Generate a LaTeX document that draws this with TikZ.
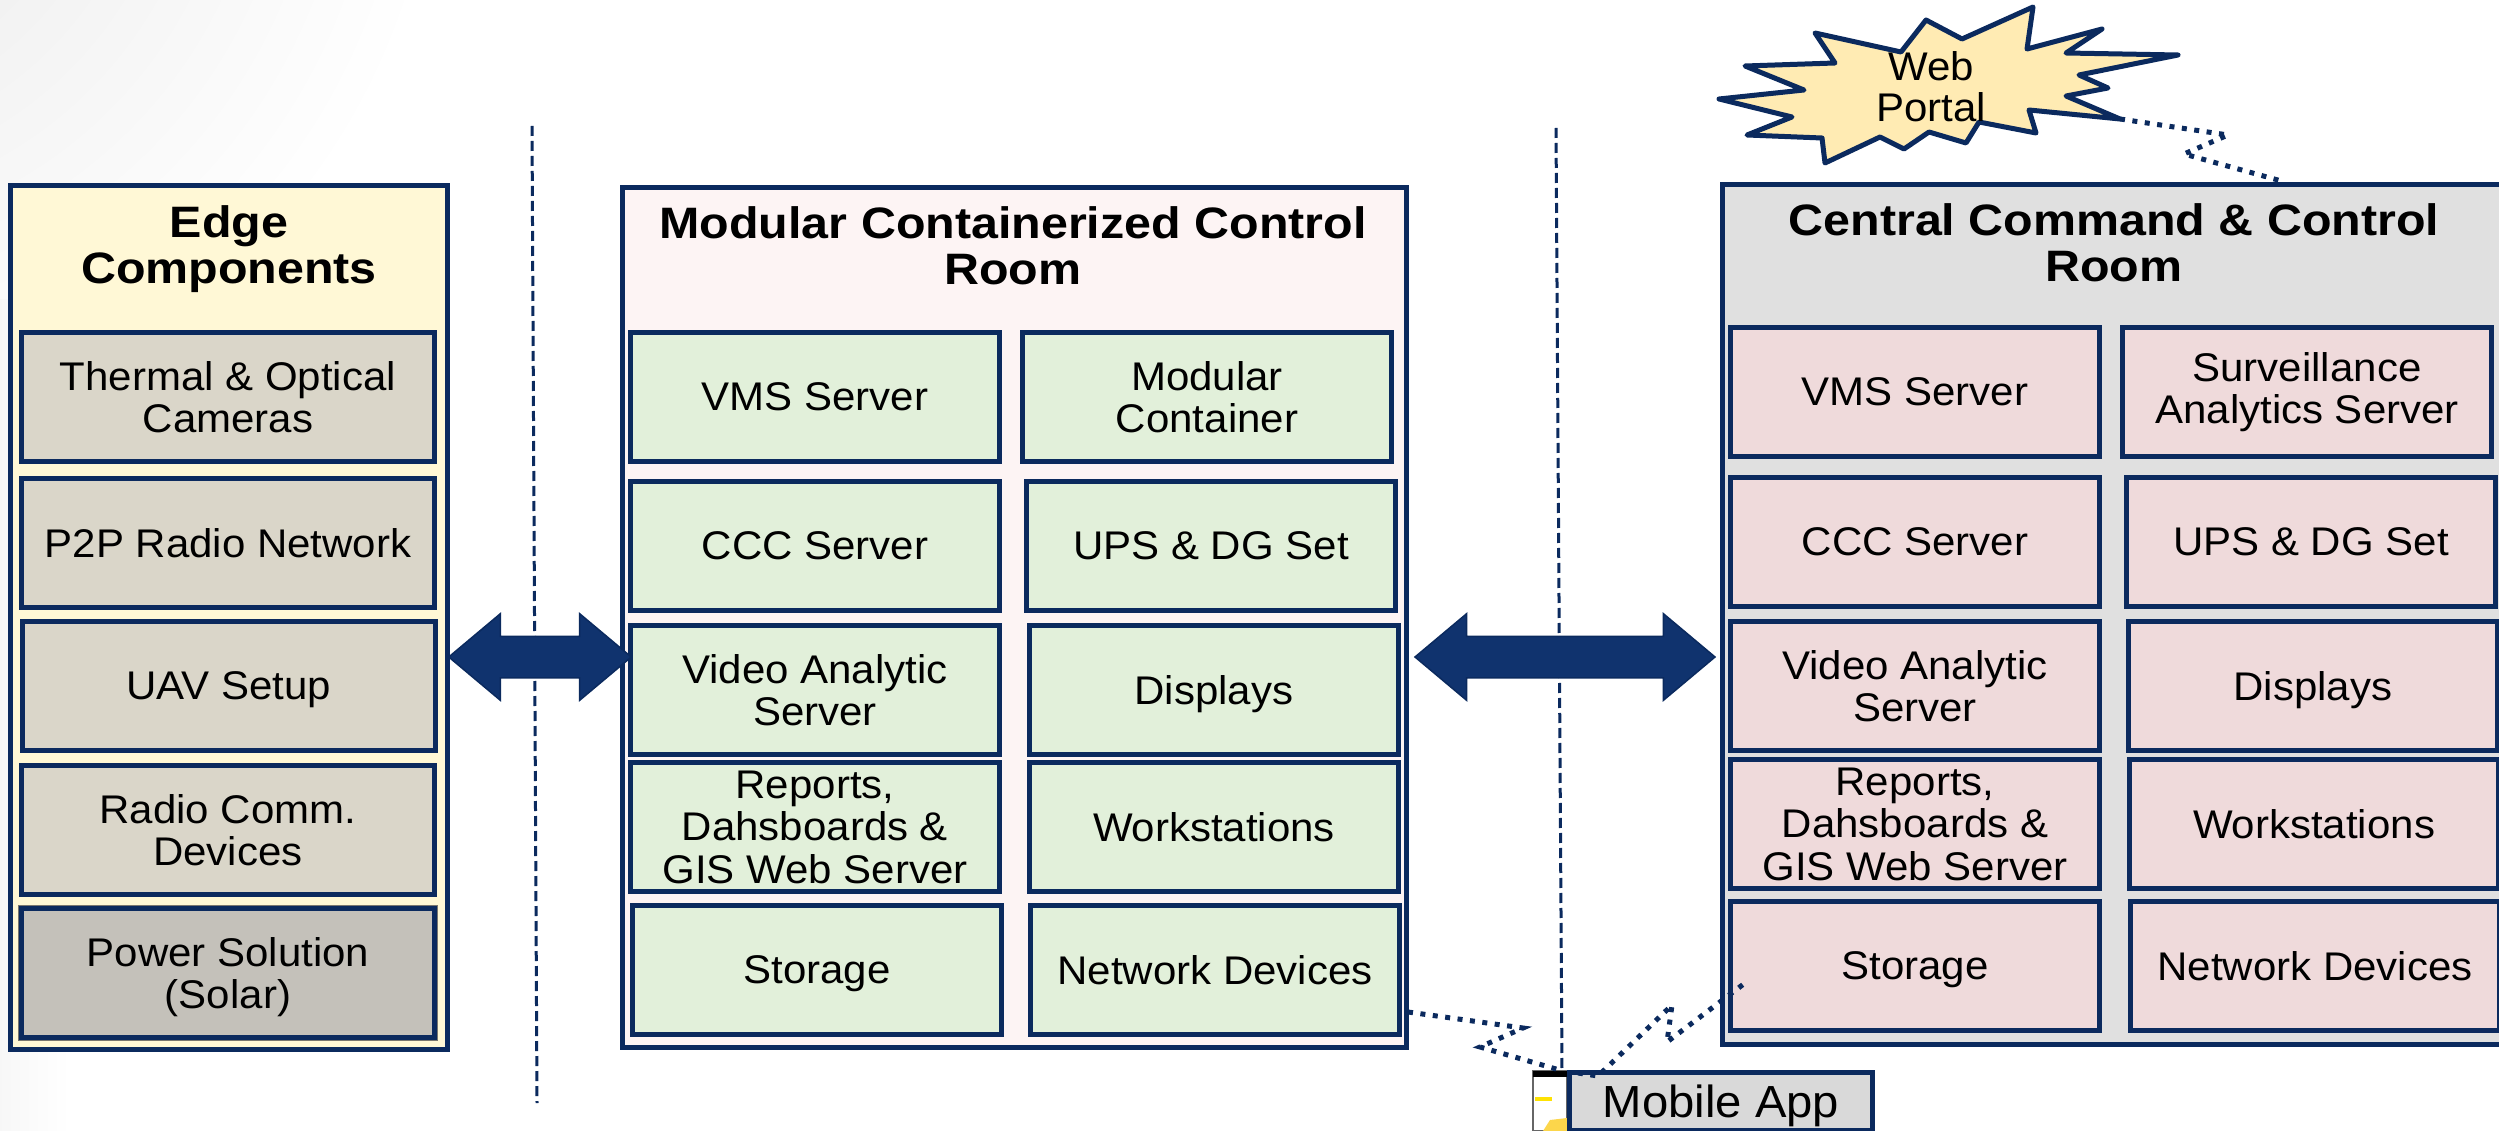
\documentclass[tikz,border=0pt]{standalone}
\usepackage{xcolor}
\usepackage{fontspec}
\setmainfont[FakeStretch=1.05,BoldFeatures={FakeStretch=1.1}]{Liberation Sans}
\usetikzlibrary{shapes, arrows}

\definecolor{navy}{HTML}{0B2A5E}
\definecolor{arrowblue}{HTML}{10336E}
\definecolor{edgebg}{HTML}{FFF8D6}
\definecolor{edgebox}{HTML}{DAD6C9}
\definecolor{solarbox}{HTML}{C4C1BA}
\definecolor{modbg}{HTML}{FDF4F4}
\definecolor{modbox}{HTML}{E2F0DA}
\definecolor{centralbg}{HTML}{E0E0E0}
\definecolor{centralbox}{HTML}{EFDADB}
\definecolor{starfill}{HTML}{FFEBB3}

\begin{document}
\begin{tikzpicture}[x=0.4pt,y=-0.4pt,
      room node/.style={rectangle,draw=navy,line width=2pt,inner sep=0pt},
      part node/.style={rectangle,draw=navy,line width=2pt,inner sep=0pt,align=center,
        minimum width=147.6pt,minimum height=51.4pt,font=\fontsize{16}{17}\selectfont},
      edge node/.style={part node,fill=edgebox,minimum width=165pt},
      mod node/.style={part node,fill=modbox},
      central node/.style={part node,fill=centralbox},
      title node/.style={align=center,font=\fontsize{17.6}{18.4}\selectfont\bfseries},
      link arrow/.style={double arrow,draw=navy,fill=arrowblue,line width=0.6pt,inner sep=8pt,
        double arrow head extend=9pt,double arrow tip angle=80,minimum width=34pt},
      zone line/.style={draw=navy,line width=1.2pt,dash pattern=on 4pt off 2pt},
      dot link/.style={draw=navy,line width=2pt,dash pattern=on 2pt off 3pt}]

    \useasboundingbox (0,0) rectangle (2499,1131);
    \clip (0,0) rectangle (2499,1131);

    % corner shade
    \shade[inner color=black!9,outer color=white] (-200,-200) circle (650);
    \shade[left color=black!3,right color=white] (0,300) rectangle (70,1131);

    % zone lines
    \coordinate (zone1a) at (532,126);
    \coordinate (zone1b) at (537,1103);
    \coordinate (zone2a) at (1556,128);
    \coordinate (zone2b) at (1562,1071);
    \draw[zone line] (zone1a) -- (zone1b);
    \draw[zone line] (zone2a) -- (zone2b);

    % rooms
    \node[room node,fill=edgebg,minimum width=174.4pt,minimum height=345.2pt] (edge) at (229,617.5) {};
    \node[room node,fill=modbg,minimum width=313.6pt,minimum height=343.6pt] (modular) at (1014,617.5) {};
    \node[room node,fill=centralbg,minimum width=315.2pt,minimum height=343.6pt] (central) at (2116,614.5) {};

    \node[title node] (edgetitle) at (229,249) {Edge\\Components};
    \node[title node] (modtitle) at (1013,246) {Modular Containerized Control\\Room};
    \node[title node] (centraltitle) at (2114,243) {Central Command \& Control\\Room};

    % edge components
    \node[edge node] (e1) at (228,397) {Thermal \& Optical\\Cameras};
    \node[edge node] (e2) at (228,543) {P2P Radio Network};
    \node[edge node,text depth=0pt] (e3) at (229,686) {UAV Setup};
    \node[edge node] (e4) at (228,830) {Radio Comm.\\Devices};
    \node[edge node,text depth=0pt,fill=solarbox,preaction={draw=black!45!edgebox,line width=3pt}] (e5) at (228,973) {Power Solution\\(Solar)};

    % modular room
    \node[mod node] (m1) at (815,397) {VMS Server};
    \node[mod node] (m2) at (1207,397) {Modular\\Container};
    \node[mod node] (m3) at (815,546) {CCC Server};
    \node[mod node] (m4) at (1211,546) {UPS \& DG Set};
    \node[mod node] (m5) at (815,690) {Video Analytic\\Server};
    \node[mod node,text depth=0pt] (m6) at (1214,690) {Displays};
    \node[mod node] (m7) at (815,827) {Reports,\\Dahsboards \&\\GIS Web Server};
    \node[mod node] (m8) at (1214,827) {Workstations};
    \node[mod node,text depth=0pt] (m9) at (817,970) {Storage};
    \node[mod node] (m10) at (1215,970) {Network Devices};

    % central room
    \node[central node] (c1) at (1915,392) {VMS Server};
    \node[central node] (c2) at (2307,392) {Surveillance\\Analytics Server};
    \node[central node] (c3) at (1915,542) {CCC Server};
    \node[central node] (c4) at (2311,542) {UPS \& DG Set};
    \node[central node] (c5) at (1915,686) {Video Analytic\\Server};
    \node[central node,text depth=0pt] (c6) at (2313,686) {Displays};
    \node[central node] (c7) at (1915,824) {Reports,\\Dahsboards \&\\GIS Web Server};
    \node[central node] (c8) at (2314,824) {Workstations};
    \node[central node,text depth=0pt] (c9) at (1915,966) {Storage};
    \node[central node] (c10) at (2315,966) {Network Devices};

    % arrows between rooms
    \node[link arrow,minimum height=73pt] (arrow1) at (540,657) {};
    \node[link arrow,minimum height=120pt] (arrow2) at (1565,657) {};

    % web portal
    \draw[draw=navy,fill=starfill,line width=2pt,line join=round]
        (1719,99) -- (1804,90) -- (1745,66) -- (1835,63) -- (1815,33) -- (1901,52) -- (1926,20)
        -- (1962,39) -- (2033,7) -- (2027,49) -- (2102,29) -- (2066,53) -- (2178,55) -- (2079,75)
        -- (2108,88) -- (2066,96) -- (2120,119) -- (2029,110) -- (2036,133) -- (1979,122)
        -- (1966,143) -- (1929,132) -- (1904,149) -- (1880,137) -- (1825,163) -- (1822,138)
        -- (1747,135) -- (1792,117) -- cycle;
    \node[align=center,inner sep=0pt,font=\fontsize{16}{16.4}\selectfont] (portal) at (1931,87) {Web\\Portal};

    % mobile app
    \node[rectangle,draw=black!60,fill=white,line width=0.5pt,minimum width=13.6pt,minimum height=24pt,inner sep=0pt] (phone) at (1550,1101) {};
    \fill[black] (1533,1071) rectangle (1567,1077);
    \fill[yellow!85!orange] (1535,1097) rectangle (1552,1101);
    \fill[yellow!60!orange!70] (1543,1131) -- (1550,1120) -- (1567,1118) -- (1567,1131) -- cycle;
    \node[rectangle,draw=navy,fill=black!15,line width=2pt,minimum width=121.2pt,minimum height=23.2pt,inner sep=0pt,text depth=0pt,font=\fontsize{18}{20}\selectfont] (mobile) at (1721,1101) {Mobile App};

    % dotted links
    \coordinate (portaltip) at (2120,119);
    \coordinate (centraltip) at (2285,182);
    \coordinate (modtip) at (1408,1012);
    \coordinate (phonetip) at (1563,1071);
    \coordinate (mobiletip) at (1578,1073);
    \coordinate (storagetip) at (1745,983);
    \draw[dot link] (portaltip) -- (2228,135) -- (2184,154) -- (centraltip);
    \draw[dot link] (modtip) -- (1523,1028) -- (1480,1047) -- (phonetip);
    \draw[dot link] (mobiletip) -- (1598,1076) -- (1672,1005) -- (1667,1042) -- (storagetip);
\end{tikzpicture}
\end{document}
